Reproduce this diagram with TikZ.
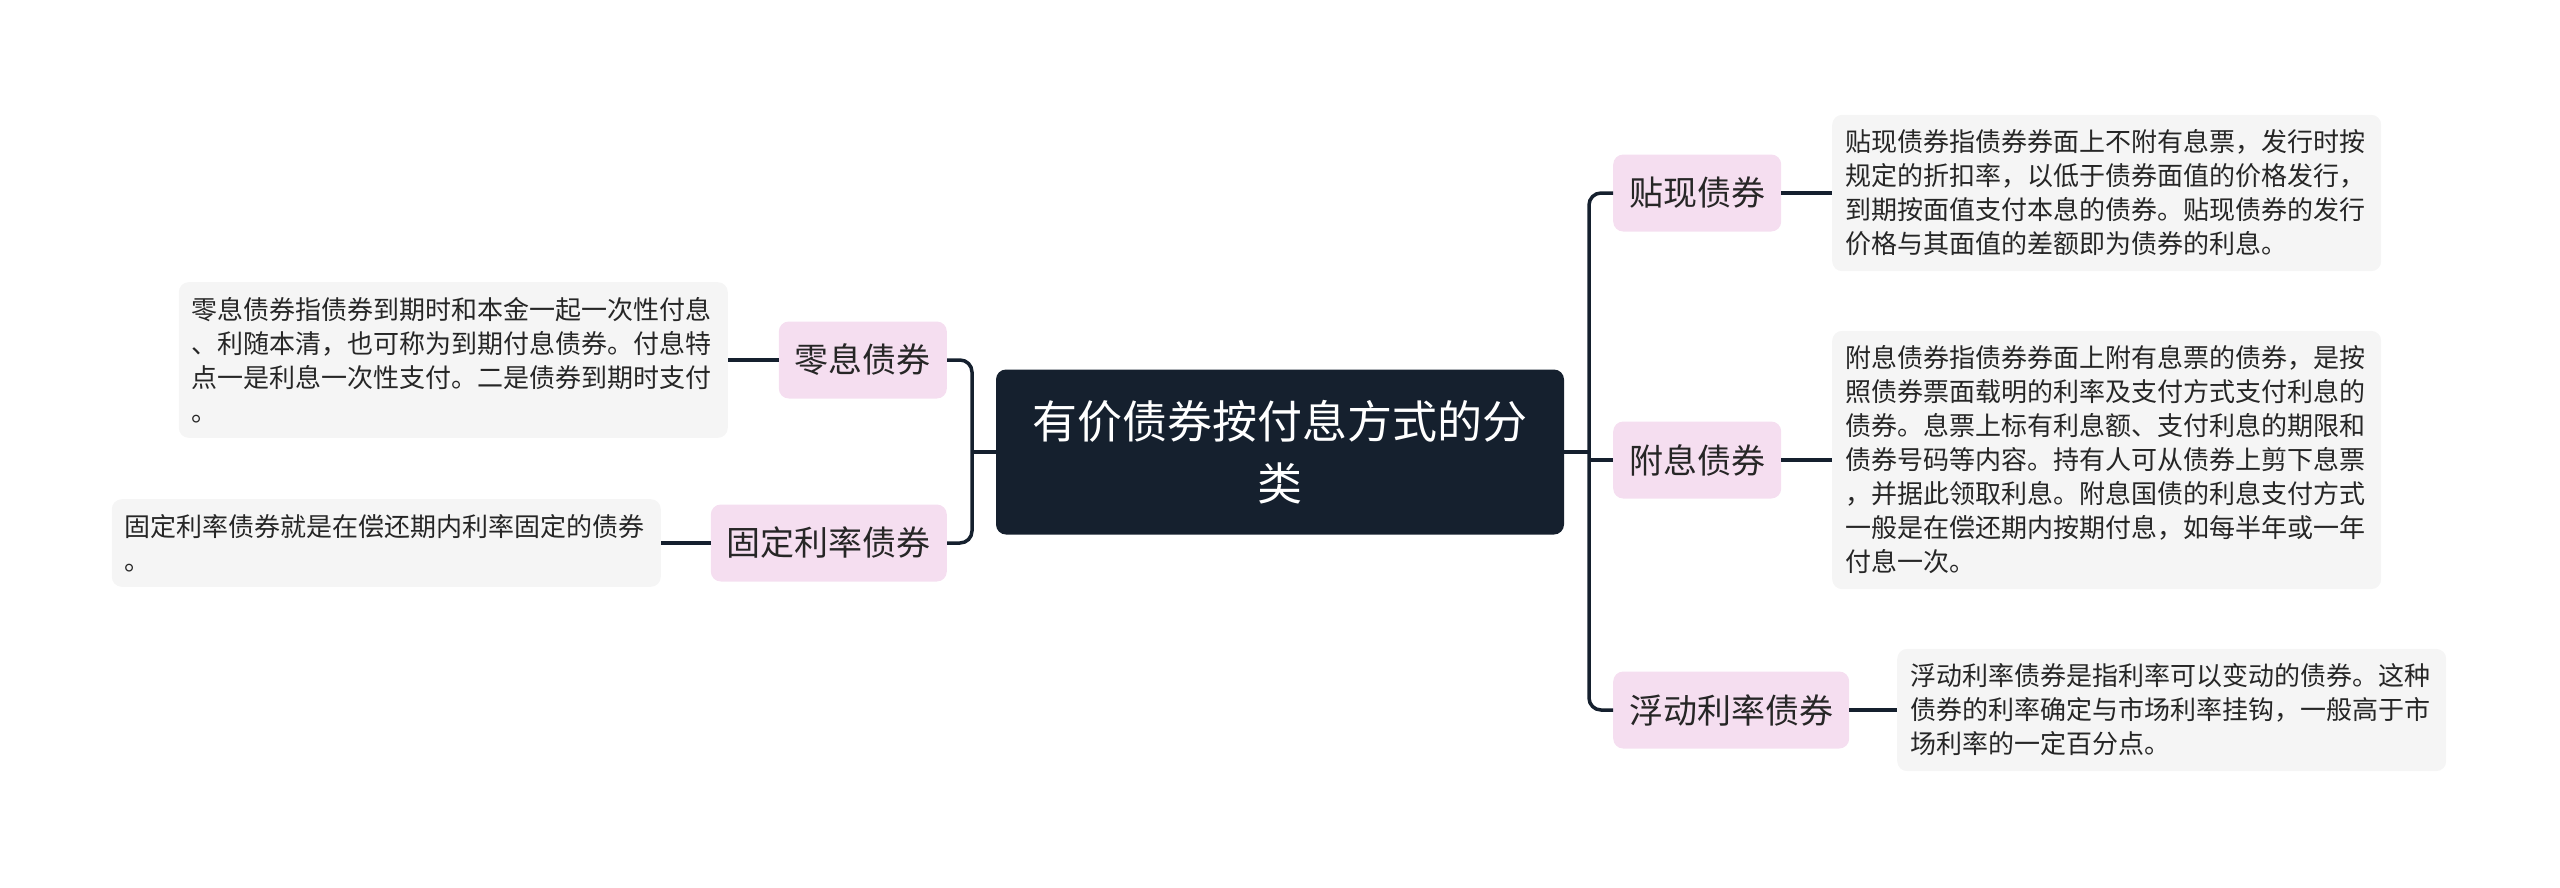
\documentclass[tikz,border=0pt]{standalone}
\usepackage{fontspec}
\setmainfont{Noto Sans CJK SC}
\definecolor{navy}{HTML}{15202E}
\definecolor{pinkbg}{HTML}{F5DEF0}
\definecolor{graybg}{HTML}{F5F5F5}
\definecolor{txt}{HTML}{262626}
\begin{document}
\begin{tikzpicture}[x=1pt,y=-1pt,
 rootbox/.style={fill=navy, rounded corners=10pt, minimum width=568pt, minimum height=165pt, text=white, font=\fontsize{45}{62}\selectfont, align=center, inner sep=0pt},
 topic/.style={fill=pinkbg, rounded corners=10pt, minimum height=77pt, inner xsep=16pt, inner ysep=0pt, text=txt, font=\fontsize{34}{40}\selectfont},
 desc/.style={fill=graybg, rounded corners=10pt, inner xsep=13pt, inner ysep=15pt, text width=523pt, align=left, text=txt, font=\fontsize{26}{34}\selectfont},
 link/.style={draw=navy, line width=3.5pt, rounded corners=12pt}
]
\useasboundingbox (0,0) rectangle (2560,887);

\node[rootbox] (root) at (1280,452) {有价债券按付息方式的分\\类};

% right topics
\node[topic, anchor=west] (t1) at (1613,193) {贴现债券};
\node[topic, anchor=west] (t2) at (1613,460) {附息债券};
\node[topic, anchor=west] (t3) at (1613,710) {浮动利率债券};

% left topics
\node[topic, anchor=east] (t4) at (947,360) {零息债券};
\node[topic, anchor=east] (t5) at (947,543) {固定利率债券};

% descriptions
\node[desc, anchor=west] (d1) at (1832,193) {贴现债券指债券券面上不附有息票，发行时按\\规定的折扣率，以低于债券面值的价格发行，\\到期按面值支付本息的债券。贴现债券的发行\\价格与其面值的差额即为债券的利息。};
\node[desc, anchor=west] (d2) at (1832,460) {附息债券指债券券面上附有息票的债券，是按\\照债券票面载明的利率及支付方式支付利息的\\债券。息票上标有利息额、支付利息的期限和\\债券号码等内容。持有人可从债券上剪下息票\\，并据此领取利息。附息国债的利息支付方式\\一般是在偿还期内按期付息，如每半年或一年\\付息一次。};
\node[desc, anchor=west] (d3) at (1897,710) {浮动利率债券是指利率可以变动的债券。这种\\债券的利率确定与市场利率挂钩，一般高于市\\场利率的一定百分点。};
\node[desc, anchor=east] (d4) at (728,360) {零息债券指债券到期时和本金一起一次性付息\\、利随本清，也可称为到期付息债券。付息特\\点一是利息一次性支付。二是债券到期时支付\\。};
\node[desc, anchor=east] (d5) at (661,543) {固定利率债券就是在偿还期内利率固定的债券\\。};

% buses
\coordinate (rb) at (1589,452);
\coordinate (lb) at (972,452);
\draw[link] (root.east) -- (rb);
\draw[link] (t1.west) -| (rb |- t3.west) -- (t3.west);
\draw[link] (rb |- t2.west) -- (t2.west);
\draw[link] (root.west) -- (lb);
\draw[link] (t4.east) -| (lb |- t5.east) -- (t5.east);

% topic to description
\draw[link] (t1.east) -- (d1.west);
\draw[link] (t2.east) -- (d2.west);
\draw[link] (t3.east) -- (d3.west);
\draw[link] (t4.west) -- (d4.east);
\draw[link] (t5.west) -- (d5.east);
\end{tikzpicture}
\end{document}
